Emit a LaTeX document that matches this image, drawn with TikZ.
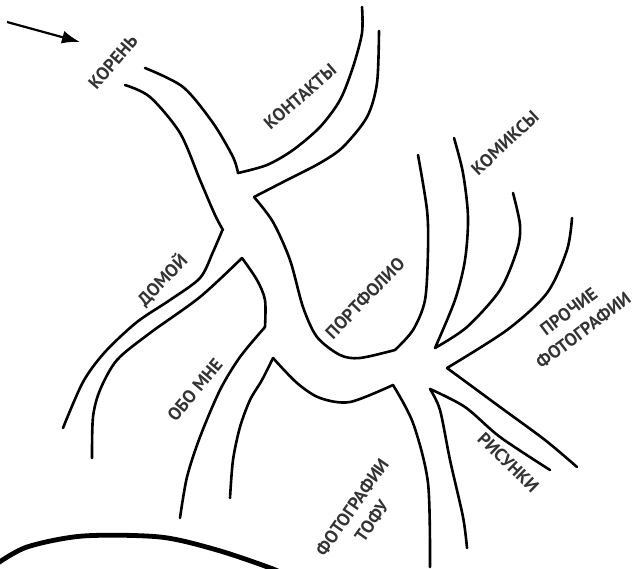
\documentclass[tikz,border=0pt]{standalone}
\usepackage{fontspec}
\setmainfont{PT Sans}
\usetikzlibrary{arrows.meta}

\begin{document}
\begin{tikzpicture}[
        x=1pt, y=-1pt,
        branch/.style={line width=2.6pt, line cap=round, line join=round},
        ground/.style={line width=4.8pt, line cap=round},
        pointer/.style={line width=2.2pt, -{Latex[length=18pt,width=13pt]}},
        leaf/.style={font=\fontsize{18}{24}\selectfont\bfseries, text=black!80, align=center, inner sep=0pt},
    ]
    \useasboundingbox (0,0) rectangle (636,569);
    \clip (0,0) rectangle (636,569);

    % Стрелка к корню
    \coordinate (arrtail) at (7,22);
    \coordinate (arrtip) at (80,42);
    \draw[pointer] (arrtail) -- (arrtip);

    % Корень и контакты
    \draw[branch] plot[smooth] coordinates {(145,68) (183,87) (213,123) (233,157) (238,173)};
    \draw[branch] plot[smooth] coordinates {(238,173) (267,165) (293,150) (320,127) (340,100) (353,67) (362,33) (362,7)};
    \draw[branch] plot[smooth] coordinates {(379,31) (377,83) (367,117) (343,147) (320,163) (287,180) (254,197)};
    \draw[branch] plot[smooth] coordinates {(125,85) (150,97) (180,133) (200,180) (215,215) (223,230)};

    % Домой
    \draw[branch] plot[smooth] coordinates {(222,231) (213,252) (200,278) (170,300) (137,322) (105,352) (83,382) (63,428)};
    \draw[branch] plot[smooth] coordinates {(242,258) (200,297) (150,333) (117,360) (100,390) (93,417) (92,458)};
    \draw[branch] plot[smooth] coordinates {(265,327) (265,300) (257,280) (242,258)};

    % Обо мне
    \draw[branch] plot[smooth] coordinates {(180,518) (187,477) (200,437) (220,390) (240,357) (265,327)};
    \draw[branch] plot[smooth] coordinates {(273,358) (262,380) (250,400) (240,427) (233,460) (230,498)};

    % Портфолио (петля) и комиксы
    \draw[branch] plot[smooth] coordinates {(254,197) (273,222) (290,260) (303,307) (317,337) (340,355) (360,358) (395,350)};
    \draw[branch] plot[smooth] coordinates {(395,350) (413,330) (425,300) (428,250) (427,210) (418,155)};
    \draw[branch] plot[smooth] coordinates {(454,138) (463,173) (468,217) (465,260) (455,300) (435,348)};

    % Прочие фотографии
    \draw[branch] plot[smooth] coordinates {(435,348) (467,327) (500,290) (517,250) (520,225) (513,193)};
    \draw[branch] plot[smooth] coordinates {(572,218) (567,250) (547,293) (507,330) (447,368)};

    % Рисунки
    \draw[branch] plot[smooth] coordinates {(447,368) (500,407) (545,440) (577,467)};
    \draw[branch] plot[smooth] coordinates {(550,470) (500,437) (465,407) (430,389)};

    % Фотографии Тофу
    \draw[branch] plot[smooth] coordinates {(430,389) (440,410) (450,460) (463,517) (467,548)};
    \draw[branch] plot[smooth] coordinates {(430,567) (428,483) (413,423) (393,385)};
    \draw[branch] plot[smooth] coordinates {(393,385) (350,402) (320,398) (297,383) (273,358)};

    % Земля
    \draw[ground] plot[smooth] coordinates {(-5,565) (27,547) (83,536) (160,537) (217,550) (273,569) (290,578)};

    % Подписи
    \foreach \nm/\px/\py/\ang/\txt in {
        koren/113/62/49/КОРЕНЬ,
        kontakty/300/97/41/КОНТАКТЫ,
        domoy/162/280/46/ДОМОЙ,
        obomne/195/390/50/ОБО МНЕ,
        portfolio/365/298/46/ПОРТФОЛИО,
        komiksy/505/143/43/КОМИКСЫ,
        risunki/510/464/-44/РИСУНКИ
    } {
        \node[leaf, rotate=\ang] (\nm) at (\px,\py) {\txt};
    }
    \node[leaf, rotate=37] (prochie) at (576,321) {ПРОЧИЕ\\ФОТОГРАФИИ};
    \node[leaf, rotate=55] (tofu) at (362,514) {ФОТОГРАФИИ\\ТОФУ};

\end{tikzpicture}
\end{document}
